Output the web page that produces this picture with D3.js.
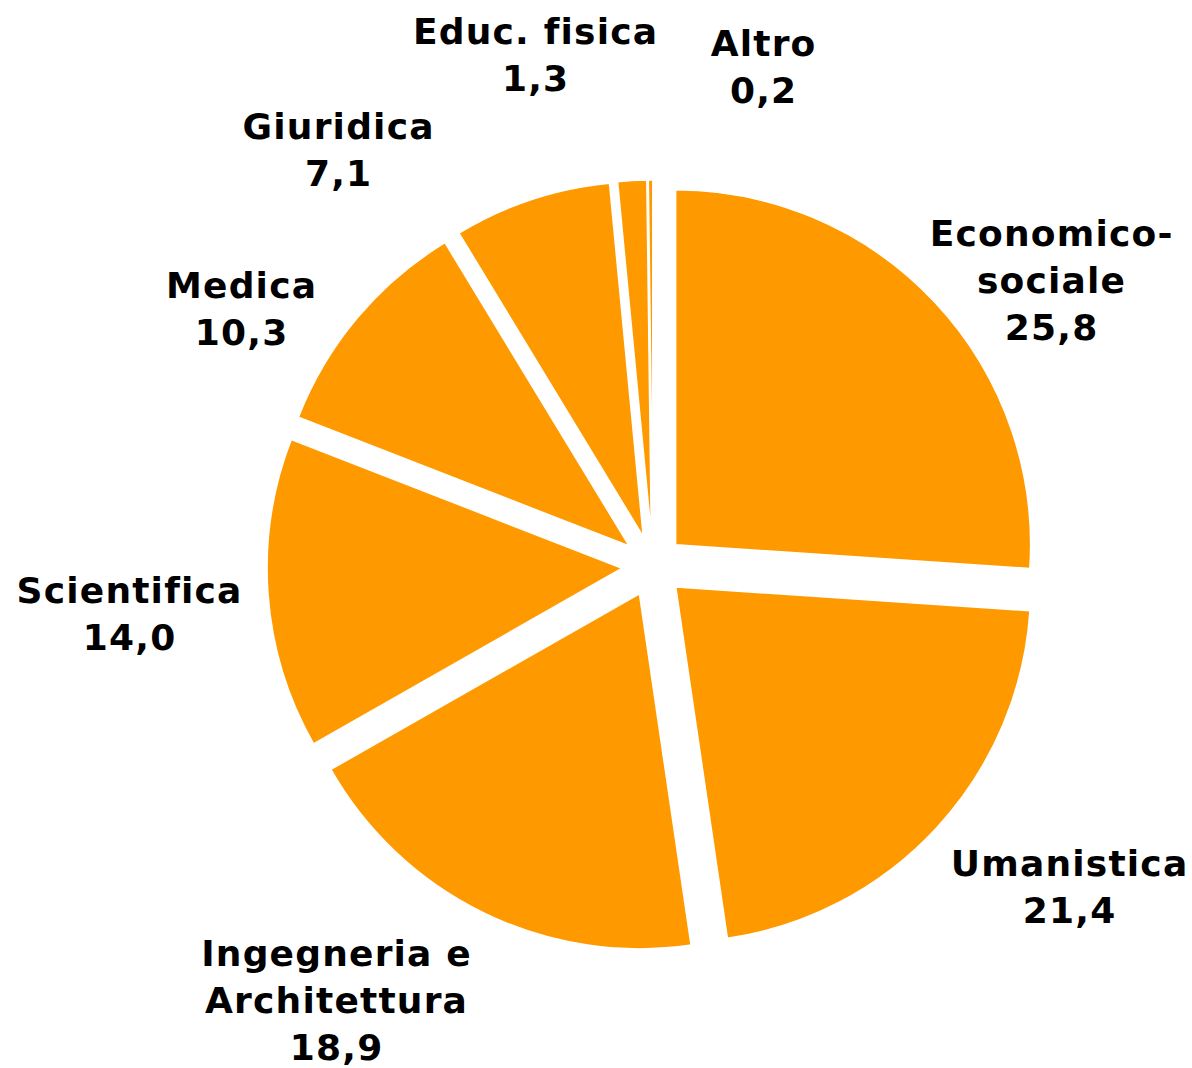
<!DOCTYPE html>
<html>
<head>
<meta charset="utf-8">
<script src="https://cdn.jsdelivr.net/npm/d3@7"></script>
<style>
  html, body { margin: 0; padding: 0; background: #fff; }
  svg { display: block; }
  text { font-family: "DejaVu Sans", Verdana, sans-serif; font-weight: bold; font-size: 36px; letter-spacing: 1.2px; fill: #000; }
</style>
</head>
<body>
<svg id="chart" width="1192" height="1068"></svg>
<script>
// ---- data ----
const categories = ["Economico-sociale", "Umanistica", "Ingegneria e Architettura", "Scientifica", "Medica", "Giuridica", "Educ. fisica", "Altro"];
const values = [25.8, 21.4, 18.9, 14.0, 10.3, 7.1, 1.3, 0.2];
const labelLines = [["Economico-", "sociale"], ["Umanistica"], ["Ingegneria e", "Architettura"], ["Scientifica"], ["Medica"], ["Giuridica"], ["Educ. fisica"], ["Altro"]];
const valueLabels = ["25,8", "21,4", "18,9", "14,0", "10,3", "7,1", "1,3", "0,2"];

// ---- layout ----
const W = 1192, H = 1068;
const cx = 653, cy = 566, R = 355, explode = 31;
const lineH = 47;
// label anchor (centre x, first baseline y), Excel-style placement
const labelAnchors = [[1051, 246], [1069, 876], [336, 966], [129, 603], [241, 298], [338, 139], [535, 44], [763, 56]];

const svg = d3.select("#chart");
const g = svg.append("g").attr("transform", `translate(${cx},${cy})`);

const pie = d3.pie().sort(null).value(d => d)(values);
const arc = d3.arc().innerRadius(0).outerRadius(R);

g.selectAll("path").data(pie).enter().append("path")
  .attr("d", arc)
  .attr("transform", d => {
    const a = (d.startAngle + d.endAngle) / 2;
    return `translate(${explode * Math.sin(a)},${-explode * Math.cos(a)})`;
  })
  .attr("fill", "#FF9900")
  .attr("stroke", "#fff")
  .attr("stroke-width", 1.5)
  .attr("stroke-linejoin", "miter");

const lbl = svg.append("g");
categories.forEach((c, i) => {
  const [x, y] = labelAnchors[i];
  const t = lbl.append("text").attr("text-anchor", "middle").attr("x", x).attr("y", y);
  const lines = labelLines[i].concat([valueLabels[i]]);
  lines.forEach((s, j) => {
    t.append("tspan").attr("x", x + 0.6).attr("dy", j === 0 ? 0 : lineH).text(s);
  });
});
</script>
</body>
</html>
